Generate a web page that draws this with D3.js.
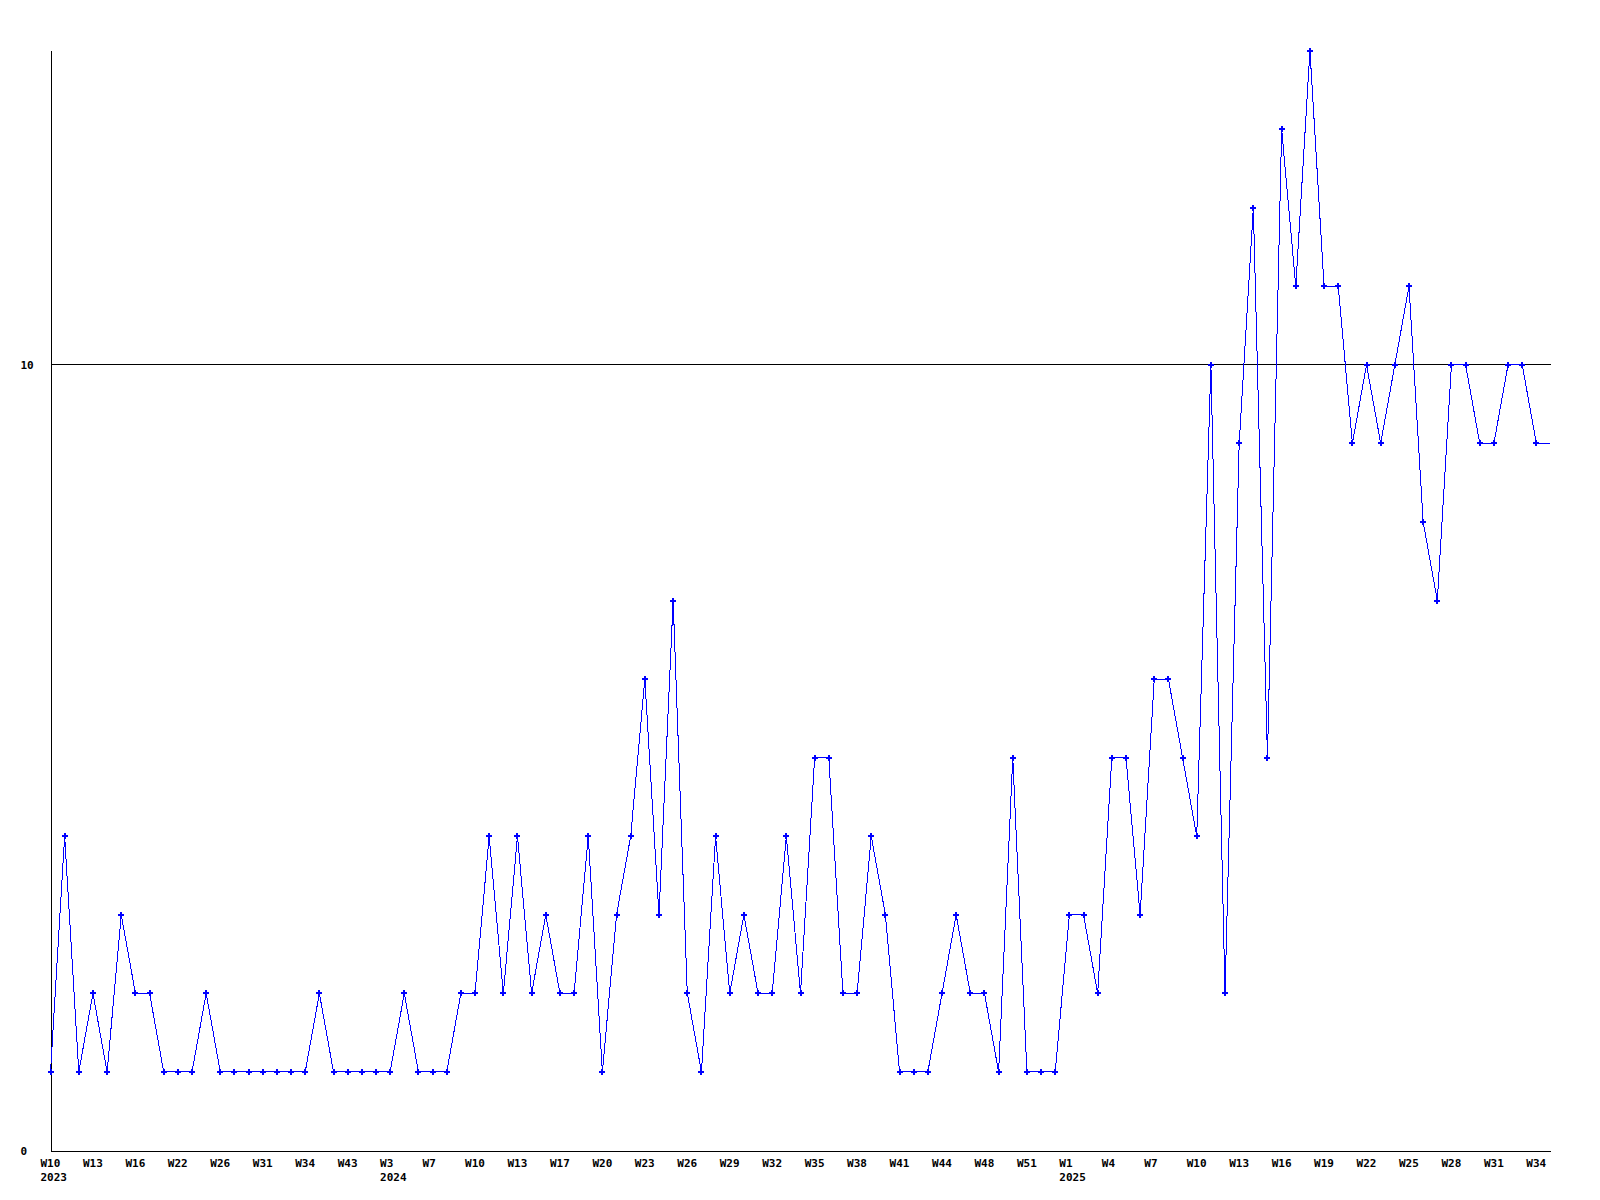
<!DOCTYPE html>
<html>
<head>
<meta charset="utf-8">
<script src="https://cdn.jsdelivr.net/npm/d3@7"></script>
<style>
  html, body { margin: 0; padding: 0; background: #ffffff; }
  svg { display: block; }
  text { font-family: "DejaVu Sans Mono", "Liberation Mono", monospace; font-weight: bold; font-size: 11px; fill: #000; }
</style>
</head>
<body>
<svg id="chart" width="1600" height="1200"></svg>
<script>
// ---- data ----
const values = [
  1,4,1,2,1,3,2,2,1,1,
  1,2,1,1,1,1,1,1,1,2,
  1,1,1,1,1,2,1,1,1,2,
  2,4,2,4,2,3,2,2,4,1,
  3,4,6,3,7,2,1,4,2,3,
  2,2,4,2,5,5,2,2,4,3,
  1,1,1,2,3,2,2,1,5,1,
  1,1,3,3,2,5,5,3,6,6,
  5,4,10,2,9,12,5,13,11,14,
  11,11,9,10,9,10,11,8,7,10,
  10,9,9,10,10,9,9
];
// week labels shown on every third point
const tickLabels = [
  "W10","W13","W16","W22","W26","W31","W34","W43",
  "W3","W7","W10","W13","W17","W20","W23","W26","W29","W32","W35","W38","W41","W44","W48","W51",
  "W1","W4","W7","W10","W13","W16","W19","W22","W25","W28","W31","W34"
];
const tickStep = 3;
const yearLabels = ["2023","2024","2025"];
const yearTickIndex = [0, 24, 72];
const yTicks = [0, 10];
const yMax = 14;

// ---- layout ----
const svg = d3.select("#chart");
const x = d3.scaleLinear().domain([0, values.length - 1]).range([50.5, 1550.5]);
const y = d3.scaleLinear().domain([0, yMax]).range([1150.5, 50.5]);

// grid line at 10
svg.append("g").selectAll("line")
  .data(yTicks.filter(v => v > 0))
  .join("line")
  .attr("x1", x.range()[0]).attr("x2", x.range()[1])
  .attr("y1", d => y(d)).attr("y2", d => y(d))
  .attr("stroke", "#000").attr("stroke-width", 1)
  .attr("shape-rendering", "crispEdges");

// y axis
const yAxis = svg.append("g")
  .attr("transform", `translate(${x.range()[0]},0)`)
  .call(d3.axisLeft(y).tickValues(yTicks).tickSize(0).tickSizeOuter(0).tickFormat(d3.format("d")));
yAxis.select(".domain").attr("stroke", "#000").attr("shape-rendering", "crispEdges");
yAxis.selectAll("text")
  .attr("text-anchor", "start")
  .attr("x", 20 - x.range()[0] + 0.5)
  .attr("dy", null)
  .attr("y", 4)
  .attr("font-family", null).attr("font-size", null);

// x axis (week labels)
const tickIdx = tickLabels.map((_, i) => i * tickStep);
const xAxis = svg.append("g")
  .attr("transform", `translate(0,${y(0)})`)
  .call(d3.axisBottom(x).tickValues(tickIdx).tickSize(0).tickSizeOuter(0)
        .tickFormat(d => tickLabels[d / tickStep]));
xAxis.select(".domain").attr("stroke", "#000").attr("shape-rendering", "crispEdges");
xAxis.selectAll("text")
  .attr("text-anchor", "start")
  .attr("x", -10.5)
  .attr("dy", null)
  .attr("y", 16.5)
  .attr("font-family", null).attr("font-size", null);

// year labels
const yearAxis = svg.append("g")
  .attr("transform", `translate(0,${y(0)})`)
  .call(d3.axisBottom(x).tickValues(yearTickIndex).tickSize(0)
        .tickFormat((d, i) => yearLabels[i]));
yearAxis.select(".domain").remove();
yearAxis.selectAll("text")
  .attr("text-anchor", "start")
  .attr("x", -10.5)
  .attr("dy", null)
  .attr("y", 30.5)
  .attr("font-family", null).attr("font-size", null);

// clip for marks
svg.append("clipPath").attr("id", "plotclip")
  .append("rect")
  .attr("x", x.range()[0] - 4).attr("y", 0)
  .attr("width", x.range()[1] - x.range()[0] + 3.5).attr("height", 1200);

// line
const line = d3.line().x((d, i) => x(i)).y(d => y(d));
svg.append("path")
  .datum(values)
  .attr("d", line)
  .attr("fill", "none")
  .attr("stroke", "#0000ff")
  .attr("stroke-width", 1)
  .attr("shape-rendering", "crispEdges")
  .attr("clip-path", "url(#plotclip)");

// markers (last point sits on the plot edge and shows no marker in the reference)
const sym = d3.symbol().type(d3.symbolCross).size(20);
svg.append("g")
  .selectAll("path")
  .data(values.slice(0, values.length - 1))
  .join("path")
  .attr("transform", (d, i) => `translate(${x(i)},${y(d)})`)
  .attr("d", sym)
  .attr("fill", "#0000ff")
  .attr("shape-rendering", "crispEdges");
</script>
</body>
</html>
